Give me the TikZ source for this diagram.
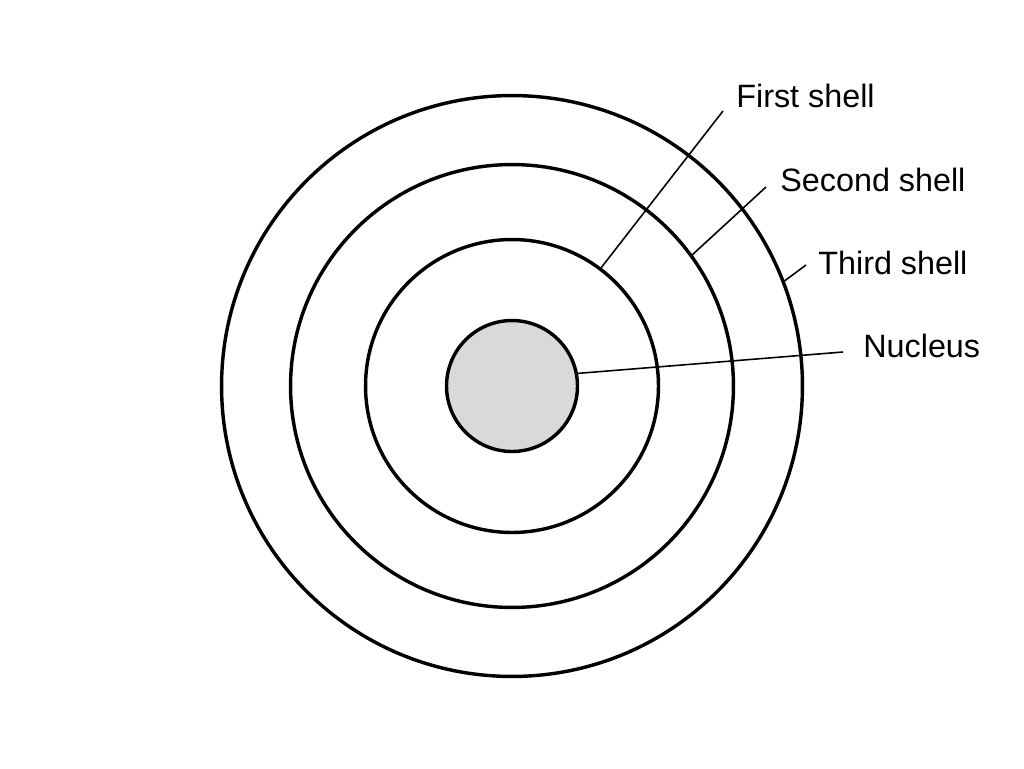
\documentclass[tikz,border=0pt]{standalone}
\usepackage{fontspec}
\setmainfont{Liberation Sans}
\definecolor{nucleusGray}{HTML}{D9D9D9}
\begin{document}
\begin{tikzpicture}[
    x=0.02cm, y=-0.02cm,
    shellStyle/.style={circle, draw, line width=1.95pt, inner sep=0pt, outer sep=0pt},
    leaderStyle/.style={line width=0.9pt},
    every node/.style={
        font=\fontsize{18.4}{22}\selectfont,
        }
        ]
    \useasboundingbox (0, 0) rectangle (1024, 768);

    \node[shellStyle, minimum size=11.62cm] (third) at (512, 386) {};
    \node[shellStyle, minimum size=8.86cm] (second) at (512, 386) {};
    \node[shellStyle, minimum size=5.86cm] (first) at (512, 386) {};
    \node[shellStyle, minimum size=2.62cm, fill=nucleusGray] (nucleus) at (512, 386) {};

    \node[anchor=base west, inner sep=0pt] (firstLabel) at (736, 107) {First shell};
    \node[anchor=base west, inner sep=0pt] (secondLabel) at (780, 191) {Second shell};
    \node[anchor=base west, inner sep=0pt] (thirdLabel) at (818, 274) {Third shell};
    \node[anchor=base west, inner sep=0pt] (nucleusLabel) at (863, 357) {Nucleus};

    \coordinate (firstEnd) at (723, 111);
    \coordinate (secondEnd) at (766, 187);
    \coordinate (thirdEnd) at (806, 265);
    \coordinate (nucleusEnd) at (843, 352);

    \draw[leaderStyle] (first.53.7) -- (firstEnd);
    \draw[leaderStyle] (second.36.1) -- (secondEnd);
    \draw[leaderStyle] (third.21.6) -- (thirdEnd);
    \draw[leaderStyle] (nucleus.11.1) -- (nucleusEnd);
\end{tikzpicture}
\end{document}
